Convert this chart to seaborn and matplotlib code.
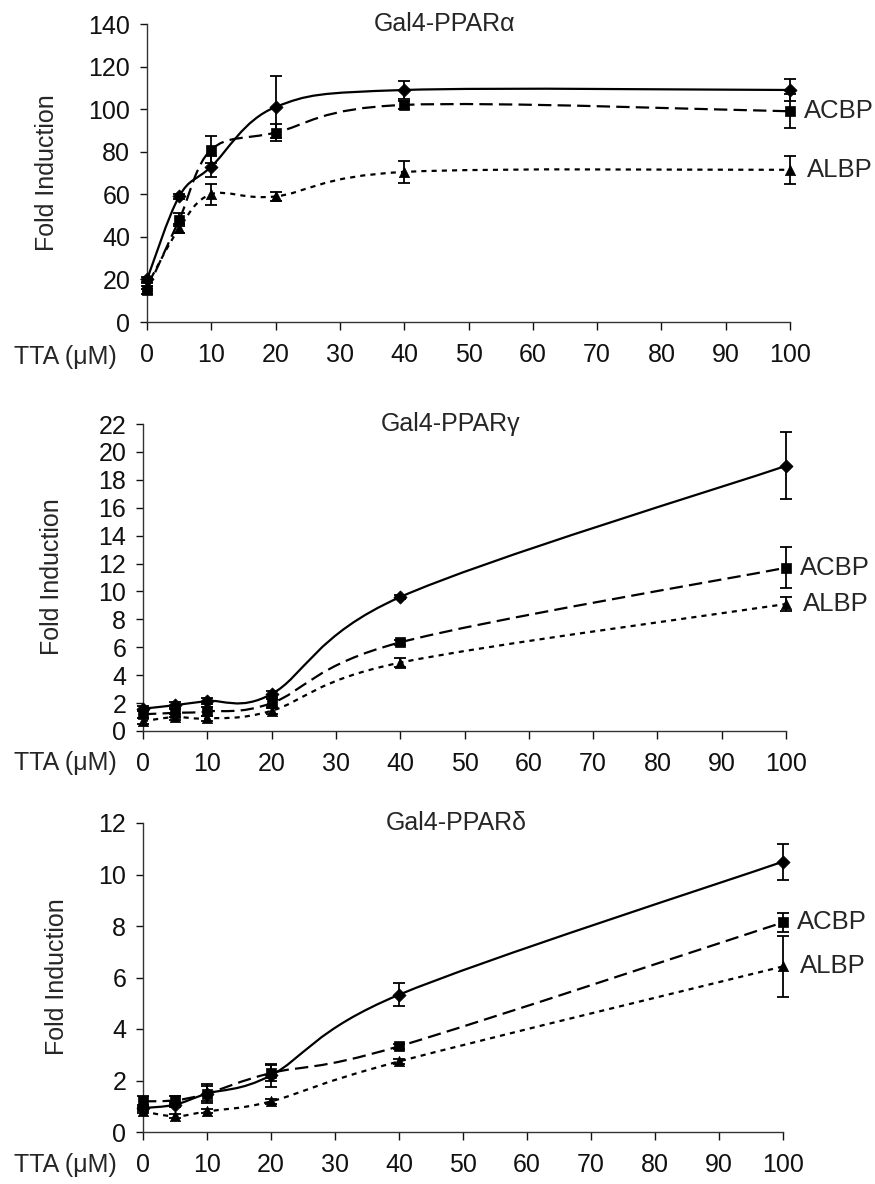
import numpy as np
import matplotlib
matplotlib.use("Agg")
import matplotlib.pyplot as plt
from matplotlib.path import Path
from matplotlib.patches import PathPatch
import seaborn as sns

tta = [0, 5, 10, 20, 40, 100]
x_ticks = [0, 10, 20, 30, 40, 50, 60, 70, 80, 90, 100]

# Gal4-PPAR alpha
alpha_dia = [20, 59, 73, 101, 109, 109]
alpha_dia_err = [1, 1, 5, 14.5, 4, 5]
alpha_acbp = [15, 48, 81, 89, 102, 99]
alpha_acbp_err = [2, 3, 6.5, 4, 2, 8]
alpha_albp = [17, 44, 60, 59, 70.5, 71.5]
alpha_albp_err = [1.5, 2, 5, 2, 5, 6.5]

# Gal4-PPAR gamma
gamma_dia = [1.6, 1.85, 2.15, 2.65, 9.6, 19.0]
gamma_dia_err = [0.2, 0.2, 0.2, 0.2, 0.15, 2.4]
gamma_acbp = [1.2, 1.3, 1.4, 2.0, 6.35, 11.7]
gamma_acbp_err = [0.3, 0.3, 0.3, 0.3, 0.2, 1.45]
gamma_albp = [0.7, 1.0, 0.9, 1.45, 4.9, 9.1]
gamma_albp_err = [0.2, 0.2, 0.2, 0.2, 0.3, 0.5]

# Gal4-PPAR delta
delta_dia = [0.93, 1.06, 1.49, 2.2, 5.33, 10.5]
delta_dia_err = [0.1, 0.1, 0.3, 0.45, 0.44, 0.7]
delta_acbp = [1.19, 1.23, 1.49, 2.29, 3.33, 8.14]
delta_acbp_err = [0.2, 0.15, 0.38, 0.3, 0.1, 0.37]
delta_albp = [0.8, 0.61, 0.8, 1.19, 2.74, 6.43]
delta_albp_err = [0.08, 0.08, 0.08, 0.1, 0.1, 1.2]

panels = [
    ("Gal4-PPAR\u03b1", 140, 20, alpha_dia, alpha_dia_err, alpha_acbp, alpha_acbp_err, alpha_albp, alpha_albp_err),
    ("Gal4-PPAR\u03b3", 22, 2, gamma_dia, gamma_dia_err, gamma_acbp, gamma_acbp_err, gamma_albp, gamma_albp_err),
    ("Gal4-PPAR\u03b4", 12, 2, delta_dia, delta_dia_err, delta_acbp, delta_acbp_err, delta_albp, delta_albp_err),
]

# axes boxes in figure fraction (left, bottom, width, height)
boxes = [
    (147 / 875, 1 - 322 / 1184, 643 / 875, 298 / 1184),
    (143 / 875, 1 - 731 / 1184, 643 / 875, 307 / 1184),
    (143 / 875, 1 - 1132 / 1184, 640 / 875, 309 / 1184),
]
title_x = [0.462, 0.479, 0.49]
ylab_pos = [(47, 173), (52, 577), (57, 977)]
tta_y = [357, 763, 1165]

sns.set_style("ticks")
plt.rcParams['font.family'] = ['Liberation Sans', 'DejaVu Sans']
FS = 18


def smooth_path(x, y):
    # excel-style smoothed line: bezier segments through the points
    pts = np.column_stack([x, y]).astype(float)
    n = len(pts)
    verts = [pts[0]]
    codes = [Path.MOVETO]
    for i in range(n - 1):
        p0 = pts[max(i - 1, 0)]
        p1 = pts[i]
        p2 = pts[i + 1]
        p3 = pts[min(i + 2, n - 1)]
        verts += [p1 + (p2 - p0) / 6, p2 - (p3 - p1) / 6, p2]
        codes += [Path.CURVE4] * 3
    return Path(verts, codes)


def draw_series(ax, y, err, marker, size, ls):
    patch = PathPatch(smooth_path(tta, y), facecolor='none', edgecolor='black',
                      lw=1.6, linestyle=ls, clip_on=False, zorder=3)
    ax.add_patch(patch)
    eb = ax.errorbar(tta, y, yerr=err, fmt='none', ecolor='black', elinewidth=1.3,
                     capsize=4.5, capthick=1.3, zorder=4)
    for art in eb.get_children():
        art.set_clip_on(False)
    sns.scatterplot(x=tta, y=y, marker=marker, s=size, color='black', edgecolor='black',
                    linewidth=0.5, ax=ax, clip_on=False, zorder=5, legend=False)


fig = plt.figure(figsize=(8.75, 11.84), dpi=100)

for k, (title, ymax, ystep, dia, dia_e, acbp, acbp_e, albp, albp_e) in enumerate(panels):
    ax = fig.add_axes(boxes[k])
    draw_series(ax, dia, dia_e, 'D', 45, '-')
    draw_series(ax, acbp, acbp_e, 's', 42, (0, (6, 2.8)))
    draw_series(ax, albp, albp_e, '^', 55, (0, (2.3, 2.3)))

    ax.set_xlim(0, 100)
    ax.set_ylim(0, ymax)
    ax.set_xticks(x_ticks)
    ax.set_yticks(np.arange(0, ymax + 0.1, ystep))
    ax.tick_params(axis='x', length=6, width=1, pad=9, labelsize=FS, colors='#111')
    ax.tick_params(axis='y', length=5, width=1, pad=7, labelsize=FS, colors='#111')
    sns.despine(ax=ax)
    for sp in ['left', 'bottom']:
        ax.spines[sp].set_color('#333')
        ax.spines[sp].set_linewidth(1)
    ax.set_xlabel('')
    ax.set_ylabel('')

    ax.text(title_x[k], 1.0, title, transform=ax.transAxes, ha='center', va='center', fontsize=FS)
    ax.annotate('ACBP', xy=(100, acbp[-1]), xytext=(10, 0), textcoords='offset points',
                ha='left', va='center', fontsize=FS + 0.5, annotation_clip=False)
    ax.annotate('ALBP', xy=(100, albp[-1]), xytext=(12, 0), textcoords='offset points',
                ha='left', va='center', fontsize=FS + 0.5, annotation_clip=False)

    fig.text(ylab_pos[k][0] / 875, 1 - ylab_pos[k][1] / 1184, 'Fold Induction', rotation=90,
             ha='center', va='center', fontsize=FS)
    fig.text(14 / 875, 1 - tta_y[k] / 1184, 'TTA (\u03bcM)', ha='left', va='center', fontsize=FS)

fig.savefig('out.png', dpi=100)
